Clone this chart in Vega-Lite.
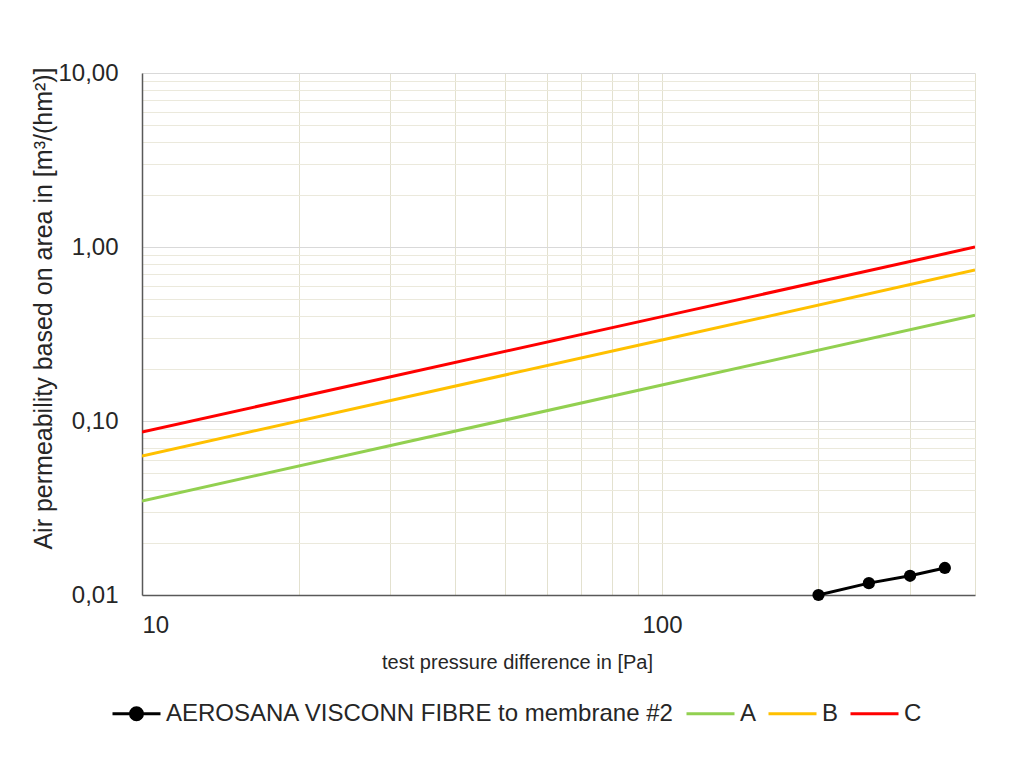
{
  "$schema": "https://vega.github.io/schema/vega-lite/v6.json",
  "width": 833,
  "height": 522,
  "autosize": "none",
  "padding": {"left": 142, "top": 73, "right": 39, "bottom": 163},
  "background": "white",
  "config": {
    "view": {"stroke": null},
    "font": "Liberation Sans",
    "axis": {"labelFont": "Liberation Sans", "titleFont": "Liberation Sans", "labelColor": "#262626", "titleColor": "#262626", "titleFontWeight": "normal"},
    "legend": {"labelFont": "Liberation Sans"}
  },
  "data": {
    "values": [
      {"p": 200, "q": 0.0100, "s": "AEROSANA VISCONN FIBRE to membrane #2"},
      {"p": 250, "q": 0.0117, "s": "AEROSANA VISCONN FIBRE to membrane #2"},
      {"p": 300, "q": 0.0129, "s": "AEROSANA VISCONN FIBRE to membrane #2"},
      {"p": 350, "q": 0.0143, "s": "AEROSANA VISCONN FIBRE to membrane #2"},
      {"p": 10, "q": 0.0347, "s": "A"},
      {"p": 100, "q": 0.161, "s": "A"},
      {"p": 400, "q": 0.405, "s": "A"},
      {"p": 10, "q": 0.063, "s": "B"},
      {"p": 100, "q": 0.292, "s": "B"},
      {"p": 400, "q": 0.737, "s": "B"},
      {"p": 10, "q": 0.0865, "s": "C"},
      {"p": 100, "q": 0.398, "s": "C"},
      {"p": 400, "q": 0.999, "s": "C"}
    ]
  },
  "encoding": {
    "x": {
      "field": "p", "type": "quantitative",
      "scale": {"type": "log", "domain": [10, 400], "nice": false},
      "axis": {
        "title": "test pressure difference in [Pa]",
        "values": [10, 20, 30, 40, 50, 60, 70, 80, 90, 100, 200, 300, 400],
        "labelExpr": "datum.value == 10 || datum.value == 100 ? format(datum.value, 'd') : ''",
        "labelFontSize": 24, "titleFontSize": 20,
        "labelPadding": 18, "titlePadding": 15,
        "titleX": 375,
        "ticks": false,
        "domainColor": "#595959", "domainWidth": 1.5,
        "gridColor": "#e3e1cf", "gridWidth": 1,
        "labelOverlap": false
      }
    },
    "y": {
      "field": "q", "type": "quantitative",
      "scale": {"type": "log", "domain": [0.01, 10], "nice": false},
      "axis": {
        "title": "Air permeability based on area in [m³/(hm²)]",
        "values": [0.01, 0.02, 0.03, 0.04, 0.05, 0.06, 0.07, 0.08, 0.09, 0.1, 0.2, 0.3, 0.4, 0.5, 0.6, 0.7, 0.8, 0.9, 1, 2, 3, 4, 5, 6, 7, 8, 9, 10],
        "labelExpr": "datum.value == 0.01 || datum.value == 0.1 || datum.value == 1 || datum.value == 10 ? replace(format(datum.value, '.2f'), '.', ',') : ''",
        "labelFontSize": 24, "titleFontSize": 25,
        "labelPadding": 24, "titlePadding": 1,
        "titleY": 235,
        "ticks": false,
        "domainColor": "#595959", "domainWidth": 1.5,
        "gridColor": {"condition": {"test": "datum.value == 0.1 || datum.value == 1 || datum.value == 10", "value": "#d9d9d9"}, "value": "#ebe9dc"},
        "gridWidth": 1,
        "labelOverlap": false
      }
    },
    "color": {
      "field": "s", "type": "nominal",
      "scale": {"domain": ["AEROSANA VISCONN FIBRE to membrane #2", "A", "B", "C"], "range": ["#000000", "#92d050", "#ffc000", "#ff0000"]},
      "legend": {
        "title": null, "orient": "none", "direction": "horizontal",
        "legendX": -31, "legendY": 615,
        "symbolType": "stroke", "symbolStrokeWidth": 3, "symbolSize": 2304,
        "labelFontSize": 24, "labelLimit": 0, "labelColor": "#262626", "columnPadding": 5, "labelOffset": 4,
        "encode": {
          "symbols": {
            "update": {
              "shape": {"signal": "datum.value == 'AEROSANA VISCONN FIBRE to membrane #2' ? 'M-1,0L1,0M-0.25,0A0.25,0.25 0 1,0 0.25,0A0.25,0.25 0 1,0 -0.25,0Z' : 'stroke'"},
              "fill": {"signal": "datum.value == 'AEROSANA VISCONN FIBRE to membrane #2' ? '#000000' : 'transparent'"}
            }
          }
        }
      }
    }
  },
  "layer": [
    {"mark": {"type": "line", "strokeWidth": 3, "clip": true}},
    {"transform": [{"filter": "datum.s == 'AEROSANA VISCONN FIBRE to membrane #2'"}],
     "mark": {"type": "point", "filled": true, "opacity": 1, "size": 150, "clip": false}}
  ]
}
